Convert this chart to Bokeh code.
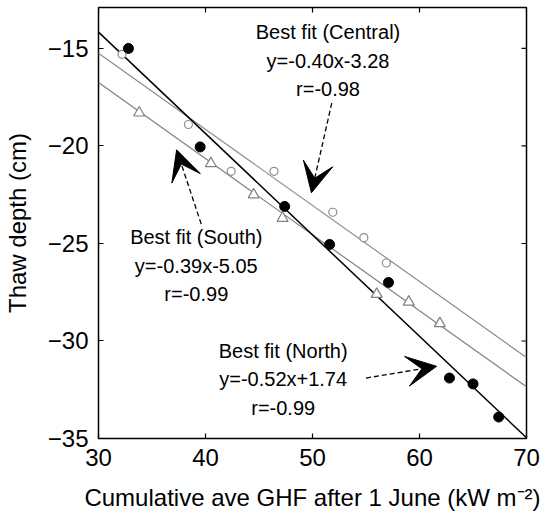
from bokeh.plotting import figure
from bokeh.models import FixedTicker, Range1d, Arrow, VeeHead, Label
from bokeh.embed import file_html
from bokeh.resources import INLINE
import numpy as np

# ---- data ----
north_x = [32.8, 39.5, 47.4, 51.6, 57.1, 62.8, 65.0, 67.4]
north_y = [-15.0, -20.05, -23.1, -25.05, -27.0, -31.9, -32.2, -33.9]

central_x = [32.2, 38.4, 42.4, 46.4, 51.9, 54.8, 56.9]
central_y = [-15.3, -18.9, -21.3, -21.3, -23.4, -24.7, -26.0]

south_x = [33.8, 40.5, 44.5, 47.2, 56.0, 59.0, 61.9]
south_y = [-18.3, -20.9, -22.5, -23.7, -27.6, -28.0, -29.1]

# best-fit lines as drawn (slope, intercept)
fit_names = ["Central", "South", "North"]
fit_slopes = [-0.39, -0.39, -0.52]
fit_intercepts = [-3.55, -5.05, 1.44]
fit_colors = ["#8c8c8c", "#808080", "#000000"]
fit_widths = [1.2, 1.2, 1.5]
fit_x = [30, 70]

x_min, x_max = 30, 70
y_min, y_max = -35, -12.9
x_ticks = [30, 40, 50, 60, 70]
y_ticks = [-35, -30, -25, -20, -15]

# annotation texts
ann_lines = {
    "Central": ["Best fit (Central)", "y=-0.40x-3.28", "r=-0.98"],
    "South": ["Best fit (South)", "y=-0.39x-5.05", "r=-0.99"],
    "North": ["Best fit (North)", "y=-0.52x+1.74", "r=-0.99"],
}
# text anchor (x centre, y of first line) in data units
ann_pos = {
    "Central": (51.45, -14.18),
    "South": (39.14, -24.69),
    "North": (47.26, -30.49),
}
# arrows: tail (x, y) -> tip (x, y)
arrows = {
    "Central": ((51.8, -17.8), (49.9, -22.4)),
    "South": ((39.6, -24.0), (37.3, -20.2)),
    "North": ((55.0, -31.9), (61.6, -31.3)),
}

FONT = "Liberation Sans"
AX_FS = "24px"
ANN_FS = "20px"

p = figure(width=540, height=515, output_backend="svg", toolbar_location=None,
           x_range=Range1d(x_min, x_max), y_range=Range1d(y_min, y_max),
           min_border_left=97, min_border_right=14, min_border_top=7,
           min_border_bottom=77)
p.background_fill_color = "white"
p.border_fill_color = "white"
p.grid.visible = False
p.outline_line_color = "black"
p.outline_line_width = 1.5

# fit lines
for m, b, c, w in zip(fit_slopes, fit_intercepts, fit_colors, fit_widths):
    xs = np.array(fit_x, dtype=float)
    p.line(xs, m * xs + b, line_color=c, line_width=w)

# markers
p.scatter(central_x, central_y, marker="circle", size=8, fill_color="white",
          line_color="#8c8c8c", line_width=1.2)
p.scatter(south_x, south_y, marker="triangle", size=11, fill_color="white",
          line_color="#808080", line_width=1.2)
p.scatter(north_x, north_y, marker="circle", size=10, fill_color="black",
          line_color="black")

# inward ticks on the top and right edges (clipped to the frame)
p.scatter(x_ticks, [y_max] * len(x_ticks), marker="dash", size=10, angle=np.pi / 2,
          line_color="black", line_width=1.2)
p.scatter([x_max] * len(y_ticks), y_ticks, marker="dash", size=10,
          line_color="black", line_width=1.2)

# annotations
for name in fit_names:
    cx, cy = ann_pos[name]
    for i, t in enumerate(ann_lines[name]):
        p.add_layout(Label(x=cx, y=cy, y_offset=-28.5 * i, text=t,
                           text_align="center", text_baseline="middle",
                           text_font=FONT, text_font_size=ANN_FS, text_color="black"))
    (x0, y0), (x1, y1) = arrows[name]
    p.add_layout(Arrow(x_start=x0, y_start=y0, x_end=x1, y_end=y1,
                       line_color="black", line_width=1.3, line_dash="5 3",
                       end=VeeHead(size=30, fill_color="black", line_color="black",
                                   line_width=1)))

# axes
for ax in (p.xaxis[0], p.yaxis[0]):
    ax.axis_line_color = None
    ax.major_tick_in = 5
    ax.major_tick_out = 0
    ax.minor_tick_line_color = None
    ax.major_tick_line_color = "black"
    ax.major_tick_line_width = 1.2
    ax.major_label_text_font = FONT
    ax.major_label_text_font_size = AX_FS
    ax.major_label_text_color = "black"
    ax.axis_label_text_font = FONT
    ax.axis_label_text_font_size = AX_FS
    ax.axis_label_text_font_style = "normal"
    ax.axis_label_text_color = "black"

p.xaxis.ticker = FixedTicker(ticks=x_ticks)
p.yaxis.ticker = FixedTicker(ticks=y_ticks)
p.xaxis.axis_label = "Cumulative ave GHF after 1 June (kW m\u207b\u00b2)"
p.yaxis.axis_label = "Thaw depth (cm)"
p.xaxis.major_label_standoff = 10
p.xaxis.axis_label_standoff = 15
p.yaxis.major_label_standoff = 10
p.yaxis.axis_label_standoff = 14

open("out.html", "w").write(file_html(p, INLINE))
